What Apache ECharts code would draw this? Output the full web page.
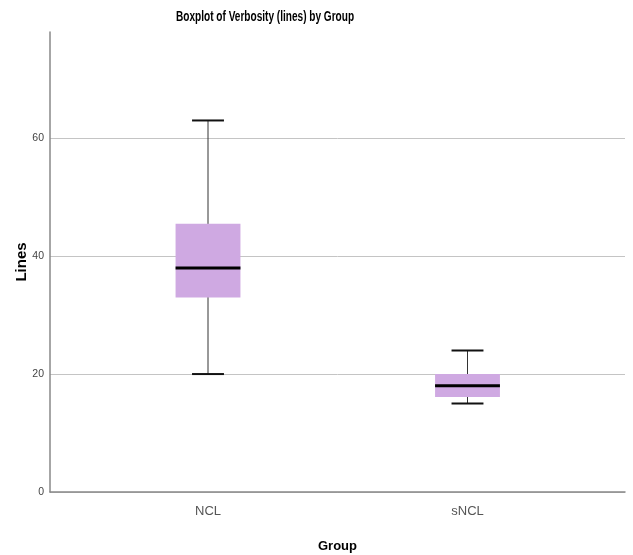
<!DOCTYPE html>
<html><head><meta charset="utf-8">
<script src="https://cdn.jsdelivr.net/npm/echarts@6/dist/echarts.min.js"></script>
<style>html,body{margin:0;padding:0;background:#fff}#c{width:633px;height:555px}</style>
</head><body><div id="c"></div>
<script>
var categories = ['NCL', 'sNCL'];
var lowWhisker = [20, 15];
var q1 = [33, 16.1];
var median = [38, 18];
var q3 = [45.5, 20];
var highWhisker = [63, 24];
var yTicks = [0, 20, 40, 60];

var data = categories.map(function (c, i) {
  return [i, lowWhisker[i], q1[i], median[i], q3[i], highWhisker[i]];
});

var chart = echarts.init(document.getElementById('c'));
chart.setOption({
  animation: false,
  backgroundColor: '#fff',
  graphic: [{
    type: 'text', left: 176, top: 10, scaleX: 0.72,
    style: { text: 'Boxplot of Verbosity (lines) by Group', fontFamily: 'Liberation Sans, Arial, sans-serif', fontSize: 14, fontWeight: 'bold', fill: '#000' }
  }],
  grid: [
    { left: 50, right: 8, top: 32, bottom: 63, containLabel: false, outerBoundsMode: 'none' },
    { left: 78.25, right: 35.75, top: 32, bottom: 63, containLabel: false, outerBoundsMode: 'none' }
  ],
  xAxis: [
    { gridIndex: 0, type: 'category', data: ['a'], axisLine: { lineStyle: { color: '#888', width: 1.5 } },
      axisTick: { show: false }, axisLabel: { show: false }, name: 'Group', nameLocation: 'middle', nameGap: 48,
      nameMoveOverlap: false,
      nameTextStyle: { fontFamily: 'Liberation Sans, Arial, sans-serif', fontSize: 13, fontWeight: 'bold', color: '#000' } },
    { gridIndex: 1, type: 'category', data: categories, axisLine: { show: false }, axisTick: { show: false },
      axisLabel: { margin: 13, fontFamily: 'Liberation Sans, Arial, sans-serif', fontSize: 13, color: '#555' } }
  ],
  yAxis: [
    { gridIndex: 0, type: 'value', min: 0, max: 78, interval: 20,
      axisLine: { show: true, lineStyle: { color: '#888', width: 1.5 } },
      axisTick: { show: false, customValues: yTicks },
      axisLabel: { margin: 6, fontFamily: 'Liberation Sans, Arial, sans-serif', fontSize: 10.5, color: '#444', customValues: yTicks },
      splitLine: { show: true, lineStyle: { color: '#c4c4c4', width: 1 } },
      name: 'Lines', nameLocation: 'middle', nameGap: 21, nameRotate: 90, nameMoveOverlap: false,
      nameTextStyle: { fontFamily: 'Liberation Sans, Arial, sans-serif', fontSize: 15, fontWeight: 'bold', color: '#000' } },
    { gridIndex: 1, type: 'value', min: 0, max: 78, show: false, splitLine: { show: false } }
  ],
  series: [{
    type: 'custom', xAxisIndex: 1, yAxisIndex: 1, data: data,
    renderItem: function (params, api) {
      var x = api.value(0);
      var band = api.size([1, 0])[0];
      var bw = band * 0.25, cw = band * 0.123;
      var pLow = api.coord([x, api.value(1)]);
      var pQ1 = api.coord([x, api.value(2)]);
      var pMed = api.coord([x, api.value(3)]);
      var pQ3 = api.coord([x, api.value(4)]);
      var pHigh = api.coord([x, api.value(5)]);
      var cx = pLow[0];
      return {
        type: 'group',
        children: [
          { type: 'line', shape: { x1: cx, y1: pHigh[1], x2: cx, y2: pLow[1] }, style: { stroke: '#333', lineWidth: 1 } },
          { type: 'rect', shape: { x: cx - bw / 2, y: pQ3[1], width: bw, height: pQ1[1] - pQ3[1] }, style: { fill: '#cfa9e2', stroke: null } },
          { type: 'line', shape: { x1: cx - bw / 2, y1: pMed[1], x2: cx + bw / 2, y2: pMed[1] }, style: { stroke: '#000', lineWidth: 3 } },
          { type: 'line', shape: { x1: cx - cw / 2, y1: pHigh[1], x2: cx + cw / 2, y2: pHigh[1] }, style: { stroke: '#111', lineWidth: 2 } },
          { type: 'line', shape: { x1: cx - cw / 2, y1: pLow[1], x2: cx + cw / 2, y2: pLow[1] }, style: { stroke: '#111', lineWidth: 2 } }
        ]
      };
    }
  }]
});
</script></body></html>
